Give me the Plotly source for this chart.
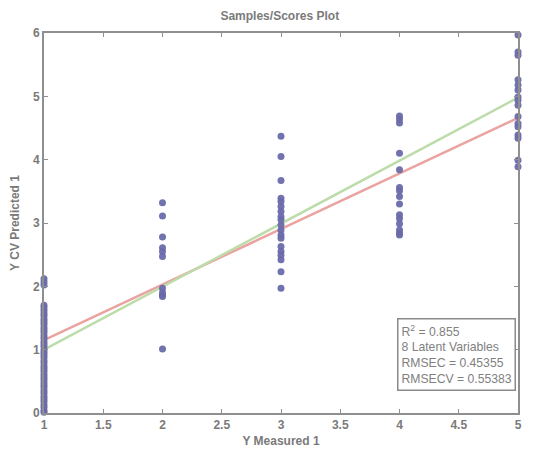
import plotly.graph_objects as go

# Data
x1_vals = [2.12, 2.07, 2.02, 1.70, 1.66, 1.62, 1.57, 1.53, 1.48, 1.44, 1.40, 1.35, 1.31, 1.27,
           1.22, 1.18, 1.13, 1.09, 1.05, 1.00, 0.96, 0.92, 0.88, 0.83, 0.79, 0.74, 0.70, 0.66,
           0.61, 0.57, 0.53, 0.48, 0.44, 0.40, 0.35, 0.31, 0.26, 0.22, 0.18, 0.13, 0.09, 0.04, 0.01]
x2_vals = [3.32, 3.11, 2.78, 2.61, 2.55, 2.47, 1.97, 1.90, 1.86, 1.84, 1.01]
x3_vals = [4.37, 4.05, 3.67, 3.39, 3.34, 3.26, 3.18, 3.10, 3.05, 2.97, 2.89, 2.81, 2.76,
           2.63, 2.55, 2.49, 2.42, 2.23, 1.97]
x4_vals = [4.69, 4.64, 4.58, 4.10, 3.84, 3.56, 3.51, 3.42, 3.30, 3.13, 3.07, 2.99, 2.89,
           2.84, 2.81]
x5_vals = [5.97, 5.70, 5.65, 5.26, 5.18, 5.10, 4.99, 4.94, 4.86, 4.68, 4.57, 4.52, 4.39,
           4.34, 3.99, 3.89]

measured = [1] * len(x1_vals) + [2] * len(x2_vals) + [3] * len(x3_vals) + [4] * len(x4_vals) + [5] * len(x5_vals)
predicted = x1_vals + x2_vals + x3_vals + x4_vals + x5_vals

fit_x = [1, 5]
fit_red = [1.15, 4.66]
fit_green = [1.0, 4.98]

x_ticks = [1, 1.5, 2, 2.5, 3, 3.5, 4, 4.5, 5]
x_tick_text = ["1", "1.5", "2", "2.5", "3", "3.5", "4", "4.5", "5"]
y_ticks = [0, 1, 2, 3, 4, 5, 6]

stats_lines = ["R<sup>2</sup> = 0.855", "8 Latent Variables", "RMSEC = 0.45355", "RMSECV = 0.55383"]

gray = "#7a7a7a"
fnt = "Liberation Sans, Arial, sans-serif"

fig = go.Figure()
fig.add_trace(go.Scatter(x=fit_x, y=fit_red, mode="lines",
                         line=dict(color="#eaa3a0", width=2.5), showlegend=False))
fig.add_trace(go.Scatter(x=fit_x, y=fit_green, mode="lines",
                         line=dict(color="#bcdcaa", width=2.5), showlegend=False))
fig.add_trace(go.Scatter(x=measured, y=predicted, mode="markers", cliponaxis=False,
                         marker=dict(color="#6a6aaa", size=7, opacity=0.95),
                         showlegend=False))

fig.add_annotation(xref="paper", yref="paper", x=0.996, y=0.058,
                   xanchor="right", yanchor="bottom", align="left",
                   text="<br>".join(stats_lines), showarrow=False,
                   font=dict(family=fnt, size=12.2, color="#808080"),
                   bgcolor="white", bordercolor="#8a8a8a", borderwidth=1.5, borderpad=3)

axis_common = dict(showgrid=False, zeroline=False, showline=True, linecolor="#8f8f8f",
                   linewidth=2, mirror="ticks", ticks="inside", ticklen=4,
                   tickcolor="#8f8f8f", automargin=False,
                   tickfont=dict(family=fnt, size=12, color=gray, weight="bold"))

fig.update_layout(
    width=534, height=454,
    margin=dict(l=36, r=24, t=25, b=49),
    paper_bgcolor="white", plot_bgcolor="white",
    title=dict(text="Samples/Scores Plot", x=0.509, xanchor="center", y=0.992, yanchor="top",
               automargin=False,
               font=dict(family=fnt, size=12, color=gray, weight="bold")),
    xaxis=dict(range=[1, 5], tickvals=x_ticks, ticktext=x_tick_text,
               title=dict(text="Y Measured 1", standoff=5,
                          font=dict(family=fnt, size=12, color=gray, weight="bold")),
               **axis_common),
    yaxis=dict(range=[0, 6], tickvals=y_ticks,
               title=dict(text="Y CV Predicted 1", standoff=14,
                          font=dict(family=fnt, size=12, color=gray, weight="bold")),
               **axis_common),
)

fig.write_html("out.html")
